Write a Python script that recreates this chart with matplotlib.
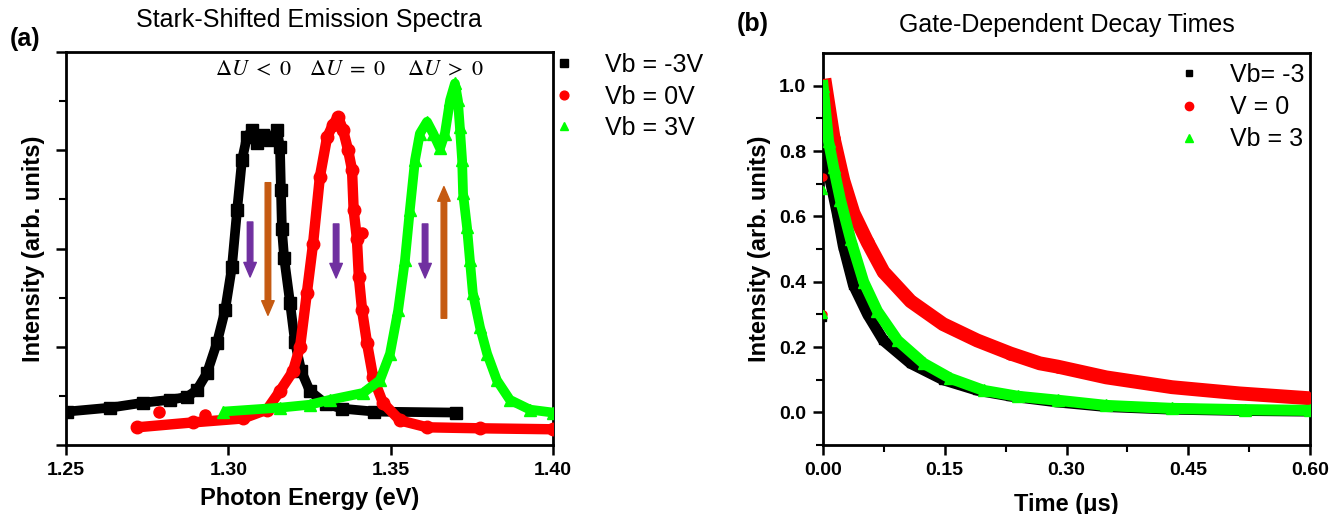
import matplotlib
matplotlib.use('Agg')
import matplotlib.pyplot as plt
from matplotlib.ticker import MultipleLocator, NullFormatter, FormatStrFormatter, FixedLocator

plt.rcParams['font.family'] = ['Liberation Sans', 'DejaVu Sans']
plt.rcParams['mathtext.fontset'] = 'stix'

# ---------------- Panel (a): Stark-shifted emission spectra ----------------
e_neg = [1.2503, 1.2636, 1.2737, 1.2820, 1.2873, 1.2903, 1.2934, 1.2965, 1.2990, 1.3011,
         1.3027, 1.3042, 1.3057, 1.3073, 1.3088, 1.3107, 1.3128, 1.3150, 1.3159, 1.3162,
         1.3165, 1.3172, 1.3190, 1.3205, 1.3225, 1.3251, 1.3300, 1.3350, 1.3450, 1.3700]
i_neg = [0.34, 0.38, 0.43, 0.46, 0.49, 0.56, 0.73, 1.04, 1.37, 1.81,
         2.39, 2.90, 3.13, 3.21, 3.07, 3.16, 3.10, 3.21, 3.03, 2.60,
         2.20, 1.90, 1.45, 1.05, 0.75, 0.55, 0.42, 0.37, 0.34, 0.33]

e_zero = [1.2719, 1.2891, 1.3045, 1.3119, 1.3159, 1.3199, 1.3221, 1.3242, 1.3261, 1.3282,
          1.3304, 1.3322, 1.3338, 1.3353, 1.3369, 1.3381, 1.3386, 1.3396, 1.3402, 1.3412,
          1.3427, 1.3446, 1.3476, 1.3529, 1.3612, 1.3775, 1.4000]
i_zero = [0.18, 0.23, 0.27, 0.36, 0.55, 0.75, 1.00, 1.55, 2.05, 2.73,
          3.13, 3.26, 3.34, 3.21, 3.00, 2.80, 2.39, 2.10, 1.71, 1.37,
          1.04, 0.69, 0.43, 0.25, 0.18, 0.17, 0.16]
e_zero_out = [1.2787, 1.2928, 1.3412]
i_zero_out = [0.34, 0.31, 2.16]

e_pos = [1.2984, 1.3159, 1.3251, 1.3313, 1.3415, 1.3467, 1.3498, 1.3523, 1.3544, 1.3559,
         1.3575, 1.3590, 1.3612, 1.3631, 1.3652, 1.3667, 1.3683, 1.3698, 1.3707, 1.3713,
         1.3720, 1.3723, 1.3735, 1.3744, 1.3753, 1.3775, 1.3797, 1.3827, 1.3867, 1.3929, 1.4000]
i_pos = [0.34, 0.38, 0.41, 0.46, 0.53, 0.66, 0.93, 1.37, 1.88, 2.39,
         2.90, 3.17, 3.29, 3.17, 3.02, 3.17, 3.51, 3.68, 3.51, 3.24,
         2.90, 2.56, 2.22, 1.88, 1.55, 1.20, 0.93, 0.66, 0.46, 0.36, 0.33]

labels_a = ['Vb = -3V', 'Vb = 0V', 'Vb = 3V']
du_labels = [r'$\Delta U\ <\ 0$', r'$\Delta U\ =\ 0$', r'$\Delta U\ >\ 0$']
du_x = [1.3076, 1.3366, 1.3668]
du_y = 3.82

# arrows: x, start, end, color
arrow_x = [1.3067, 1.3122, 1.3332, 1.3606, 1.3664]
arrow_from = [2.27, 2.67, 2.25, 2.25, 1.29]
arrow_to = [1.71, 1.32, 1.70, 1.70, 2.63]
arrow_col = ['#7030A0', '#C55A11', '#7030A0', '#7030A0', '#C55A11']

# ---------------- Panel (b): gate-dependent decay ----------------
t_neg = [0.001, 0.009, 0.0175, 0.025, 0.0375, 0.055, 0.0745, 0.108, 0.148, 0.19,
         0.231, 0.289, 0.349, 0.43, 0.52, 0.60]
d_neg = [0.85, 0.71, 0.61, 0.51, 0.39, 0.30, 0.22, 0.15, 0.10, 0.068,
         0.050, 0.032, 0.018, 0.010, 0.006, 0.004]
t_zero = [0.003, 0.013, 0.025, 0.0375, 0.055, 0.0745, 0.108, 0.148, 0.19, 0.231,
          0.267, 0.289, 0.349, 0.43, 0.513, 0.60]
d_zero = [1.00, 0.84, 0.71, 0.61, 0.52, 0.43, 0.34, 0.27, 0.22, 0.18,
          0.15, 0.14, 0.107, 0.077, 0.058, 0.043]
t_pos = [0.0, 0.0068, 0.013, 0.0215, 0.034, 0.05, 0.067, 0.092, 0.124, 0.157,
         0.198, 0.24, 0.289, 0.349, 0.43, 0.52, 0.60]
d_pos = [1.00, 0.83, 0.75, 0.65, 0.53, 0.40, 0.31, 0.22, 0.15, 0.104,
         0.067, 0.049, 0.037, 0.021, 0.012, 0.008, 0.006]
# rising-edge points at t ~ 0
t_rise = [0.0, 0.0]
d_rise_neg = [0.29]
d_rise_zero = [0.30, 0.72]
d_rise_pos = [0.30, 0.68]

labels_b = ['Vb= -3', 'V = 0', 'Vb = 3']

BLACK, RED, GREEN = '#000000', '#FF0000', '#00FF00'

fig = plt.figure(figsize=(13.38, 5.14), dpi=100)
axa = fig.add_axes([66 / 1338, 1 - 445 / 514, (553 - 66) / 1338, (445 - 52) / 514])
axb = fig.add_axes([823 / 1338, 1 - 445 / 514, (1310 - 823) / 1338, (445 - 53) / 514])

# ---- panel a ----
axa.plot(e_neg, i_neg, '-', color=BLACK, lw=7, solid_capstyle='butt', zorder=2)
axa.plot(e_zero, i_zero, '-', color=RED, lw=7.5, solid_capstyle='round', zorder=3)
axa.plot(e_pos, i_pos, '-', color=GREEN, lw=7, solid_capstyle='butt', zorder=4)
h1, = axa.plot(e_neg, i_neg, 's', color=BLACK, ms=8, label=labels_a[0], zorder=2)
h2, = axa.plot(e_zero, i_zero, 'o', color=RED, ms=9, label=labels_a[1], zorder=3)
axa.plot(e_zero_out, i_zero_out, 'o', color=RED, ms=8, zorder=3)
h3, = axa.plot(e_pos, i_pos, '^', color=GREEN, ms=9, label=labels_a[2], zorder=4)

for x, y0, y1, c in zip(arrow_x, arrow_from, arrow_to, arrow_col):
    axa.annotate('', xy=(x, y1), xytext=(x, y0),
                 arrowprops=dict(arrowstyle='simple,head_length=1.05,head_width=0.9,tail_width=0.4',
                                 color=c, mutation_scale=10, shrinkA=0, shrinkB=0), zorder=6)

for x, s in zip(du_x, du_labels):
    axa.text(x, du_y, s, ha='center', va='center', fontsize=16)

axa.set_xlim(1.25, 1.40)
axa.set_ylim(0, 4)
axa.xaxis.set_major_locator(FixedLocator([1.25, 1.30, 1.35, 1.40]))
axa.xaxis.set_major_formatter(FormatStrFormatter('%.2f'))
axa.yaxis.set_major_locator(MultipleLocator(1))
axa.yaxis.set_minor_locator(MultipleLocator(0.5))
axa.yaxis.set_major_formatter(NullFormatter())
axa.set_xlabel('Photon Energy (eV)', fontsize=17, fontweight='bold', labelpad=6)
axa.set_ylabel('Intensity (arb. units)', fontsize=17, fontweight='bold', labelpad=3)
axa.legend(handles=[h1, h2, h3], loc='upper left', bbox_to_anchor=(555 / 1338, 1 - 53 / 514),
           bbox_transform=fig.transFigure, frameon=False, fontsize=18, markerscale=0.7,
           handlelength=0.7, handletextpad=1.3, labelspacing=0.3, borderpad=0, borderaxespad=0)

# ---- panel b ----
axb.plot(t_neg, d_neg, '-', color=BLACK, lw=8, zorder=2)
axb.plot(t_zero, d_zero, '-', color=RED, lw=10, zorder=3)
axb.plot(t_pos, d_pos, '-', color=GREEN, lw=8, zorder=4)
g1, = axb.plot(t_neg, d_neg, 's', color=BLACK, ms=6, label=labels_b[0], zorder=2)
g2, = axb.plot(t_zero, d_zero, 'o', color=RED, ms=8, label=labels_b[1], zorder=3)
g3, = axb.plot(t_pos, d_pos, '^', color=GREEN, ms=8, label=labels_b[2], zorder=4)
axb.plot(t_rise[:1], d_rise_neg, 's', color=BLACK, ms=5, zorder=2)
axb.plot(t_rise, d_rise_zero, 'o', color=RED, ms=5, zorder=3)
axb.plot(t_rise, d_rise_pos, '^', color=GREEN, ms=6, zorder=4)

axb.set_xlim(0, 0.6)
axb.set_ylim(-0.1, 1.1)
axb.xaxis.set_major_locator(MultipleLocator(0.15))
axb.xaxis.set_minor_locator(MultipleLocator(0.075))
axb.xaxis.set_major_formatter(FormatStrFormatter('%.2f'))
axb.yaxis.set_major_locator(FixedLocator([0.0, 0.2, 0.4, 0.6, 0.8, 1.0]))
axb.yaxis.set_minor_locator(FixedLocator([-0.1, 0.1, 0.3, 0.5, 0.7, 0.9]))
axb.yaxis.set_major_formatter(FormatStrFormatter('%.1f'))
axb.set_xlabel('Time (μs)', fontsize=17, fontweight='bold', labelpad=10)
axb.set_ylabel('Intensity (arb. units)', fontsize=17, fontweight='bold', labelpad=6)
axb.legend(handles=[g1, g2, g3], loc='upper left', bbox_to_anchor=(1180 / 1338, 1 - 63 / 514),
           bbox_transform=fig.transFigure, frameon=False, fontsize=18, markerscale=0.75,
           handlelength=0.7, handletextpad=1.3, labelspacing=0.33, borderpad=0, borderaxespad=0)

for ax in (axa, axb):
    for sp in ax.spines.values():
        sp.set_linewidth(2)
    ax.tick_params(which='major', direction='out', length=7, width=1.8, labelsize=14, pad=5,
                   top=False, right=False)
    ax.tick_params(which='minor', direction='out', length=5, width=1.5, top=False, right=False)
    for lab in ax.get_xticklabels() + ax.get_yticklabels():
        lab.set_fontweight('bold')

fig.text(309 / 1338, 1 - 20 / 514, 'Stark-Shifted Emission Spectra', ha='center', va='center', fontsize=18)
fig.text(1067 / 1338, 1 - 25 / 514, 'Gate-Dependent Decay Times', ha='center', va='center', fontsize=18)
fig.text(25 / 1338, 1 - 39 / 514, '(a)', ha='center', va='center', fontsize=18, fontweight='bold')
fig.text(753 / 1338, 1 - 24 / 514, '(b)', ha='center', va='center', fontsize=18, fontweight='bold')

fig.savefig('out.png', dpi=100)
